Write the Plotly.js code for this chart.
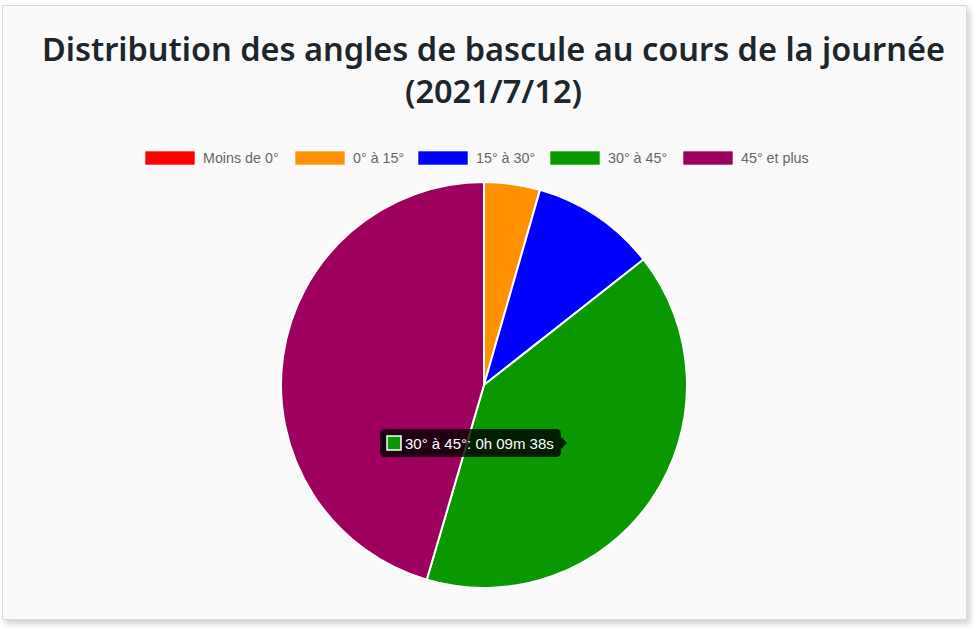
<!DOCTYPE html>
<html>
<head>
<meta charset="utf-8">
<script src="https://cdn.plot.ly/plotly-3.0.1.min.js"></script>
<style>
  html, body { margin: 0; padding: 0; background: #ffffff; }
  #card { position: absolute; left: 2px; top: 5px; width: 963px; height: 613px;
          border: 1px solid #d9d9d9; background: #fafafa;
          box-shadow: 3px 4px 6px rgba(0,0,0,0.18); }
  #chart { position: absolute; left: 0; top: 0; width: 976px; height: 633px; }
</style>
</head>
<body>
<div id="card"></div>
<div id="chart"></div>
<script>
// ---- data ----
const categories = ["Moins de 0°", "0° à 15°", "15° à 30°", "30° à 45°", "45° et plus"];
const durationsSec = [0, 64, 143, 578, 654];
const colors = ["#ff0000", "#ff9100", "#0000ff", "#0b9700", "#9e005d"];
const titleLines = ["Distribution des angles de bascule au cours de la journée", "(2021/7/12)"];
const hoveredIndex = 3;

// ---- helpers ----
const W = 976, H = 633;
const px = x => x / W;
const py = y => 1 - y / H;
function fmt(sec) {
  const h = Math.floor(sec / 3600), m = Math.floor((sec % 3600) / 60), s = sec % 60;
  return h + "h " + String(m).padStart(2, "0") + "m " + String(s).padStart(2, "0") + "s";
}

// pie geometry (pixels)
const cx = 484, cy = 385, R = 203;

const pie = {
  type: "pie",
  labels: categories,
  values: durationsSec,
  sort: false,
  direction: "clockwise",
  rotation: 0,
  textinfo: "none",
  hoverinfo: "none",
  showlegend: false,
  marker: { colors: colors, line: { color: "#ffffff", width: 2 } },
  domain: { x: [px(cx - R), px(cx + R)], y: [py(cy + R), py(cy - R)] }
};

const shapes = [];
const annotations = [];

// title (one centred two-line block)
const titleFont = { family: "Noto Sans, Open Sans, sans-serif", size: 32.5, weight: 600, color: "#1c262b" };
annotations.push({ xref: "paper", yref: "paper", x: px(493), y: py(70),
  xanchor: "center", yanchor: "middle", showarrow: false, text: titleLines.join("<br>"), font: titleFont });

// custom legend (Chart.js style)
const legendFont = { family: "Liberation Sans, Arial, Helvetica, sans-serif", size: 14.3, color: "#666666" };
const boxX = [145, 295, 418, 550, 683];
const boxW = 50, boxY0 = 151, boxY1 = 165;
categories.forEach((c, i) => {
  shapes.push({ type: "rect", xref: "paper", yref: "paper",
    x0: px(boxX[i]), x1: px(boxX[i] + boxW), y0: py(boxY1), y1: py(boxY0),
    fillcolor: colors[i], line: { color: "rgba(255,255,255,0.6)", width: 1 }, layer: "above" });
  annotations.push({ xref: "paper", yref: "paper", x: px(boxX[i] + boxW + 6), y: py(158),
    xanchor: "left", yanchor: "middle", showarrow: false, text: c, font: legendFont });
});

// tooltip (Chart.js style)
const tx0 = 380, tx1 = 561, ty0 = 429, ty1 = 457, r = 5, caret = 6, tcy = 443;
const P = (x, y) => px(x) + "," + py(y);
const tipPath = "M" + P(tx0 + r, ty0) + " L" + P(tx1 - r, ty0) + " Q" + P(tx1, ty0) + " " + P(tx1, ty0 + r) +
  " L" + P(tx1, tcy - caret) + " L" + P(tx1 + caret, tcy) + " L" + P(tx1, tcy + caret) +
  " L" + P(tx1, ty1 - r) + " Q" + P(tx1, ty1) + " " + P(tx1 - r, ty1) +
  " L" + P(tx0 + r, ty1) + " Q" + P(tx0, ty1) + " " + P(tx0, ty1 - r) +
  " L" + P(tx0, ty0 + r) + " Q" + P(tx0, ty0) + " " + P(tx0 + r, ty0) + " Z";
shapes.push({ type: "path", xref: "paper", yref: "paper", path: tipPath,
  fillcolor: "rgba(0,0,0,0.8)", line: { width: 0 }, layer: "above" });
shapes.push({ type: "rect", xref: "paper", yref: "paper",
  x0: px(387), x1: px(401), y0: py(450), y1: py(436),
  fillcolor: colors[hoveredIndex], line: { color: "#ffffff", width: 1.5 }, layer: "above" });
annotations.push({ xref: "paper", yref: "paper", x: px(403), y: py(tcy), xanchor: "left", yanchor: "middle",
  showarrow: false, text: categories[hoveredIndex] + ": " + fmt(durationsSec[hoveredIndex]),
  font: { family: "Liberation Sans, Arial, Helvetica, sans-serif", size: 15, color: "#ffffff" } });

const layout = {
  width: W, height: H,
  margin: { l: 0, r: 0, t: 0, b: 0 },
  paper_bgcolor: "rgba(0,0,0,0)",
  plot_bgcolor: "rgba(0,0,0,0)",
  shapes: shapes,
  annotations: annotations
};

Plotly.newPlot("chart", [pie], layout, { displayModeBar: false, staticPlot: true });
</script>
</body>
</html>
